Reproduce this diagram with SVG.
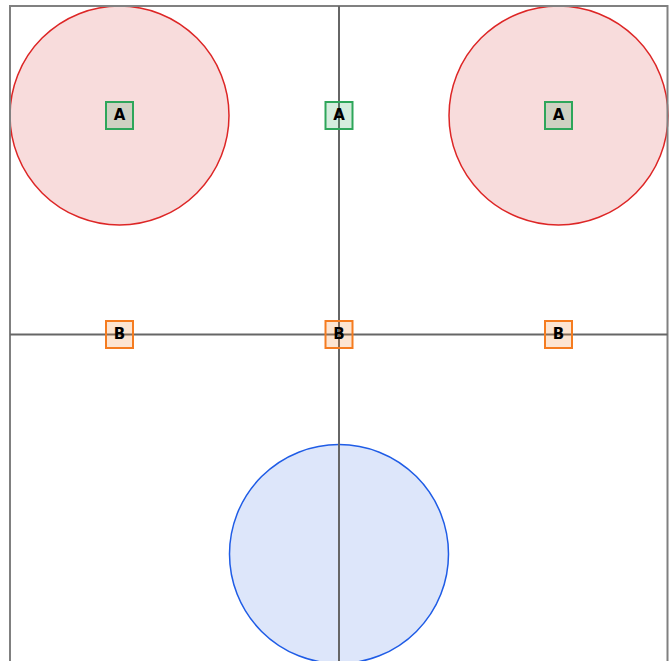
<svg xmlns="http://www.w3.org/2000/svg" width="672" height="661" viewBox="0 0 672 661">
<style>
.red{fill:#f8dcdc;stroke:#dd2626;stroke-width:1.5}
.blue{fill:#dde6fa;stroke:#1f5ce6;stroke-width:1.5}
.frame{fill:none;stroke:#808080;stroke-width:2}
.axis{stroke:#666666;stroke-width:2}
.a{fill:#2ea65a;fill-opacity:0.2;stroke:#2ea65a;stroke-width:2}
.b{fill:#f57c20;fill-opacity:0.2;stroke:#f57c20;stroke-width:2}
.t{font-family:"DejaVu Sans",sans-serif;font-weight:bold;font-size:15px;fill:#000;text-anchor:middle;dominant-baseline:central}
</style>
<rect x="0" y="0" width="672" height="661" fill="#fff"/>
<g id="circles">
<circle id="circle-tl" class="red" cx="119.5" cy="115.5" r="109.5"/>
<circle id="circle-tr" class="red" cx="558.5" cy="115.5" r="109.5"/>
<circle id="circle-b" class="blue" cx="339" cy="554" r="109.5"/>
</g>
<g id="connectors">
<rect class="frame" x="10" y="6" width="657.5" height="670"/>
<line class="axis" x1="339" y1="6" x2="339" y2="661"/>
<line class="axis" x1="10" y1="334.5" x2="667.5" y2="334.5"/>
</g>
<g id="node-a1"><rect class="a" x="106" y="102" width="27" height="27"/><text class="t" x="119.5" y="114.5">A</text></g>
<g id="node-a2"><rect class="a" x="325.5" y="102" width="27" height="27"/><text class="t" x="339" y="114.5">A</text></g>
<g id="node-a3"><rect class="a" x="545" y="102" width="27" height="27"/><text class="t" x="558.5" y="114.5">A</text></g>
<g id="node-b1"><rect class="b" x="106" y="321" width="27" height="27"/><text class="t" x="119.5" y="333.5">B</text></g>
<g id="node-b2"><rect class="b" x="325.5" y="321" width="27" height="27"/><text class="t" x="339" y="333.5">B</text></g>
<g id="node-b3"><rect class="b" x="545" y="321" width="27" height="27"/><text class="t" x="558.5" y="333.5">B</text></g>
</svg>
